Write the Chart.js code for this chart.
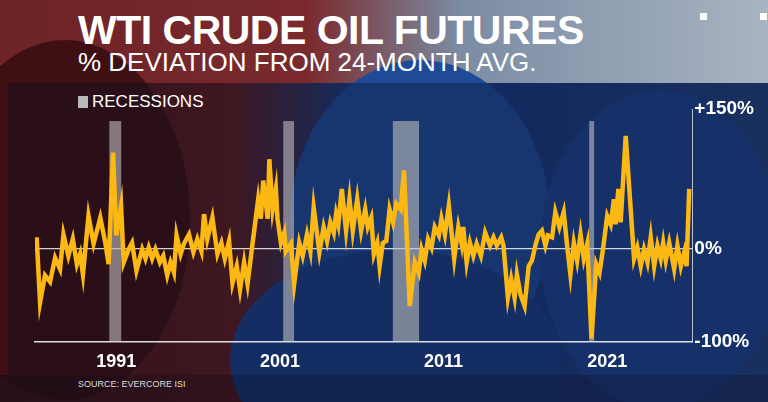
<!DOCTYPE html>
<html>
<head>
<meta charset="utf-8">
<script src="https://cdn.jsdelivr.net/npm/chart.js@4"></script>
<style>
  html, body { margin: 0; padding: 0; }
  body { width: 768px; height: 402px; overflow: hidden; position: relative; font-family: "Liberation Sans", Arial, sans-serif;
    background: linear-gradient(90deg, #4a1518 0%, #5b1c1f 30%, #1d3a78 45%, #1a3a80 70%, #23427e 100%); }
  #top { position: absolute; left: 0; top: 0; width: 768px; height: 83px;
    background: linear-gradient(90deg, #6d2327 0%, #7a2a2d 40%, #7b8ca3 60%, #a9b4c2 100%); }
  #panel { position: absolute; left: 8px; top: 83px; width: 760px; height: 292px; background: rgba(10,15,35,0.35); }
  #foot { position: absolute; left: 0; top: 375px; width: 768px; height: 27px; background: rgba(5,10,25,0.5); }
  .barrel { position: absolute; border-radius: 50%; }
  #title { position: absolute; left: 78px; top: 7px; color: #fff; font-weight: bold; font-size: 41px; letter-spacing: -0.5px; }
  #sub { position: absolute; left: 78px; top: 47px; color: #fff; font-size: 26px; }
  #legend { position: absolute; left: 78px; top: 92px; color: #fff; font-size: 17px; }
  #legend span { display: inline-block; width: 10px; height: 12px; background: #b9b9b9; margin-right: 4px; vertical-align: -1px; }
  #source { position: absolute; left: 78px; top: 379px; color: #ddd; font-size: 9px; }
  .sq { position: absolute; top: 13px; width: 7px; height: 7px; background: #fff; }
  canvas { position: absolute; left: 0; top: 0; }
</style>
</head>
<body>
<div id="top"></div>
<div class="barrel" style="left:-60px;top:40px;width:250px;height:360px;background:#3e1013;"></div>
<div class="barrel" style="left:290px;top:60px;width:260px;height:320px;background:#1f4a97;"></div>
<div class="barrel" style="left:230px;top:250px;width:330px;height:220px;background:#1b3f86;"></div>
<div class="barrel" style="left:540px;top:90px;width:240px;height:320px;background:#1e4490;"></div>
<div id="panel"></div>
<div id="foot"></div>
<div id="title">WTI CRUDE OIL FUTURES</div>
<div id="sub">% DEVIATION FROM 24-MONTH AVG.</div>
<div id="legend"><span></span>RECESSIONS</div>
<div id="source">SOURCE: EVERCORE ISI</div>
<div class="sq" style="left:700px"></div>
<div class="sq" style="left:760px"></div>
<canvas id="c" width="768" height="402"></canvas>
<script>
const years = [1986.13,1986.34,1986.64,1986.95,1987.26,1987.56,1987.77,1988.07,1988.34,1988.59,1988.79,1988.96,1989.30,1989.61,1990.02,1990.33,1990.53,1990.80,1991.0,1991.29,1991.45,1991.75,1991.96,1992.23,1992.58,1992.78,1992.98,1993.19,1993.39,1993.66,1993.87,1994.11,1994.31,1994.52,1994.68,1994.93,1995.13,1995.44,1995.71,1995.95,1996.20,1996.36,1996.56,1996.87,1997.18,1997.42,1997.63,1997.89,1998.10,1998.36,1998.56,1998.81,1999.02,1999.33,1999.67,1999.83,1999.98,2000.25,2000.35,
  2000.55,2000.75,2000.85,2001.06,2001.26,2001.36,2001.67,2001.87,2002.18,2002.39,2002.65,2002.86,2003.06,2003.41,2003.67,2003.88,2004.08,2004.29,2004.43,2004.57,2004.78,2005.04,2005.25,2005.45,2005.72,2005.96,2006.21,2006.37,2006.58,2006.74,2006.95,2007.09,2007.29,2007.50,2007.70,2007.91,2008.11,2008.38,2008.58,2008.93,2009.24,2009.48,2009.65,2009.85,2010.05,2010.26,2010.46,2010.71,2010.87,2011.08,2011.32,2011.65,2011.90,2012.10,2012.20,2012.41,2012.61,2012.82,2013.02,2013.20,
  2013.28,2013.54,2013.84,2014.05,2014.25,2014.52,2014.66,2014.93,2015.13,2015.34,2015.48,2015.69,2015.95,2016.20,2016.40,2016.65,2016.81,2017.01,2017.22,2017.38,2017.63,2017.83,2018.08,2018.34,2018.55,2018.75,2018.96,2019.16,2019.37,2019.57,2019.78,2020.04,2020.33,2020.53,2020.74,2021.0,2021.21,2021.41,2021.51,2021.68,2021.82,2022.13,2022.64,2022.84,2023.05,2023.25,2023.46,2023.66,2023.87,2024.07,2024.27,2024.42,2024.58,2024.79,2025.09,2025.29,2025.50,2025.71,2025.85,2026.01];
const deviation = [12,-58,-29,-36,-10,-22,15,-8,10,-17,-6,-28,35,5,33,6,-17,103,14,46,-15,-1,6,-24,-1,-11,1,-11,-1,-15,-8,-29,-15,-26,14,-6,5,15,-4,10,-3,37,10,33,-6,6,-11,8,-37,-19,-44,-15,-38,6,53,32,73,32,96,
  42,64,32,6,17,-3,5,-38,6,-8,15,-3,44,-4,23,8,28,17,37,26,64,19,53,19,53,19,42,23,33,-6,6,-19,6,8,42,28,48,42,84,-62,-15,-26,-1,-13,10,1,23,14,32,15,46,-11,23,5,23,-15,6,-8,5,-4,
  -8,17,3,12,3,12,3,-53,-33,-53,-28,-49,-62,-19,-13,6,15,19,3,14,12,39,23,39,3,-28,6,-13,15,-11,5,-97,-17,-26,-1,35,26,53,26,64,28,121,-11,1,-19,-1,-15,12,-19,3,-11,6,-13,6,-22,3,-19,-4,-19,64];
const recessionStart = [1990.57, 2001.2, 2007.9, 2019.9];
const recessionEnd = [1991.3, 2001.86, 2009.5, 2020.2];
const yearTicks = [1991, 2001, 2011, 2021];
const pctTicks = [150, 0, -100];

const recessionBars = {
  id: 'recessionBars',
  beforeDatasetsDraw(chart) {
    const { ctx, scales: { x, y } } = chart;
    ctx.save();
    ctx.fillStyle = 'rgba(190,190,190,0.6)';
    const top = y.getPixelForValue(137), bottom = y.getPixelForValue(-100);
    recessionStart.forEach((s, i) => {
      const x0 = x.getPixelForValue(s), x1 = x.getPixelForValue(recessionEnd[i]);
      ctx.fillRect(x0, top, x1 - x0, bottom - top);
    });
    ctx.restore();
  }
};

new Chart(document.getElementById('c'), {
  type: 'line',
  data: {
    datasets: [{
      data: years.map((yr, i) => ({ x: yr, y: deviation[i] })),
      borderColor: '#fdb913',
      borderWidth: 4.5,
      pointRadius: 0,
      tension: 0,
      borderJoinStyle: 'miter'
    }]
  },
  options: {
    responsive: false,
    animation: false,
    layout: { padding: { left: 35, right: 12, top: 109, bottom: 27 } },
    plugins: { legend: { display: false }, tooltip: { enabled: false } },
    scales: {
      x: {
        type: 'linear', min: 1986.03, max: 2026.2,
        afterBuildTicks: (axis) => { axis.ticks = yearTicks.map(v => ({ value: v })); },
        ticks: { color: '#fff', font: { family: 'Liberation Sans', weight: 'bold', size: 18 }, padding: 2, callback: v => String(v) },
        grid: { display: false },
        border: { color: 'rgba(255,255,255,0.85)', width: 1.5 }
      },
      y: {
        position: 'right', min: -100, max: 150,
        afterBuildTicks: (axis) => { axis.ticks = pctTicks.map(v => ({ value: v })); },
        ticks: { color: '#fff', font: { family: 'Liberation Sans', weight: 'bold', size: 19 }, padding: 2,
          callback: v => v > 0 ? '+' + v + '%' : v + '%' },
        grid: { color: ctx => ctx.tick && ctx.tick.value === 0 ? 'rgba(255,255,255,0.8)' : 'rgba(0,0,0,0)', lineWidth: 1.2, drawTicks: false },
        border: { color: 'rgba(255,255,255,0.7)', width: 1 }
      }
    }
  },
  plugins: [recessionBars]
});
</script>
</body>
</html>
